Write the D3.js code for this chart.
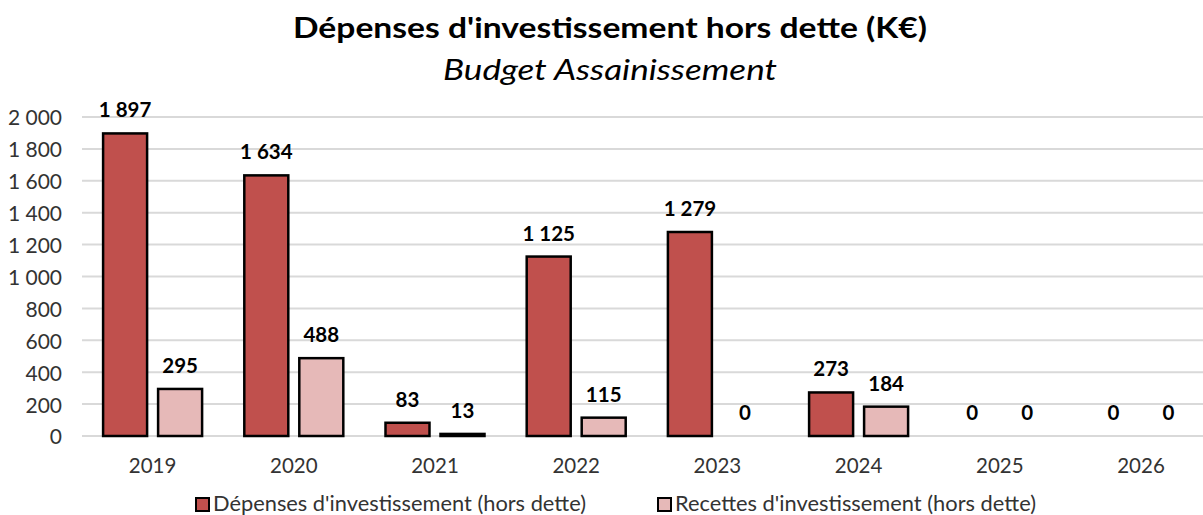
<!DOCTYPE html>
<html>
<head>
<meta charset="utf-8">
<script src="https://cdn.jsdelivr.net/npm/d3@7"></script>
<style>
  html, body { margin: 0; padding: 0; background: #fff; }
  svg { display: block; font-family: Lato, "Open Sans", sans-serif; }
</style>
</head>
<body>
<svg id="chart" width="1203" height="515"></svg>
<script>
const years = ["2019", "2020", "2021", "2022", "2023", "2024", "2025", "2026"];
const depenses = [1897, 1634, 83, 1125, 1279, 273, 0, 0];
const recettes = [295, 488, 13, 115, 0, 184, 0, 0];
const seriesNames = ["Dépenses d'investissement (hors dette)", "Recettes d'investissement (hors dette)"];
const yTicks = [0, 200, 400, 600, 800, 1000, 1200, 1400, 1600, 1800, 2000];

const colors = ["#C0504D", "#E6B9B8"];
const fmt = v => d3.format(",")(v).replace(/,/g, " ");

const svg = d3.select("#chart");
const plotLeft = 82, plotRight = 1211.6, plotTop = 117, plotBottom = 436;

const x = d3.scaleBand().domain(years).range([plotLeft, plotRight]).paddingInner(0).paddingOuter(0);
const barW = 44, gap = 11;
const y = d3.scaleLinear().domain([0, 2000]).range([plotBottom, plotTop]);

// grid lines
svg.append("g").selectAll("line").data(yTicks).join("line")
  .attr("x1", plotLeft).attr("x2", 1203)
  .attr("y1", d => y(d)).attr("y2", d => y(d))
  .attr("stroke", "#D9D9D9").attr("stroke-width", 2);

// y axis labels
const yAxis = d3.axisLeft(y).tickValues(yTicks).tickFormat(fmt).tickSize(0).tickPadding(0);
svg.append("g").attr("transform", `translate(62,0)`).call(yAxis)
  .call(g => g.select(".domain").remove())
  .selectAll("text").attr("font-size", 21).attr("fill", "#333")
  .attr("dy", "0.38em")
  .attr("font-family", "Lato, sans-serif");

// x axis labels
const xAxis = d3.axisBottom(x).tickSize(0).tickPadding(0);
svg.append("g").attr("transform", `translate(0,${plotBottom})`).call(xAxis)
  .call(g => g.select(".domain").remove())
  .selectAll("text").attr("font-size", 20.5).attr("fill", "#333")
  .attr("y", 37).attr("dy", 0)
  .attr("font-family", "Lato, sans-serif");

const series = [depenses, recettes];
series.forEach((vals, si) => {
  const off = si === 0 ? -(gap / 2 + barW) : gap / 2;
  const g = svg.append("g");
  const data = years.map((yr, i) => ({ yr, v: vals[i] }));
  g.selectAll("rect").data(data.filter(d => d.v > 0)).join("rect")
    .attr("x", d => x(d.yr) + x.bandwidth() / 2 + off)
    .attr("y", d => y(d.v))
    .attr("width", barW)
    .attr("height", d => y(0) - y(d.v))
    .attr("fill", colors[si])
    .attr("stroke", "#000").attr("stroke-width", 2.5);
  g.selectAll("text").data(data).join("text")
    .attr("x", d => x(d.yr) + x.bandwidth() / 2 + off + barW / 2)
    .attr("y", d => y(d.v) - 16)
    .attr("text-anchor", "middle")
    .attr("font-size", 20.5).attr("font-weight", "bold").attr("fill", "#000")
    .text(d => fmt(d.v));
});

// title
svg.append("text").attr("x", 610).attr("y", 38).attr("text-anchor", "middle")
  .attr("font-size", 28).attr("font-weight", "bold").attr("fill", "#000")
  .attr("textLength", 634).attr("lengthAdjust", "spacingAndGlyphs")
  .text("Dépenses d'investissement hors dette (K€)");
svg.append("text").attr("x", 610).attr("y", 80).attr("text-anchor", "middle")
  .attr("font-size", 28).attr("font-style", "italic").attr("fill", "#000")
  .attr("textLength", 334).attr("lengthAdjust", "spacingAndGlyphs")
  .text("Budget Assainissement");

// legend
const legX = [196, 658];
const legLen = [373, 361];
seriesNames.forEach((name, i) => {
  svg.append("rect").attr("x", legX[i]).attr("y", 498).attr("width", 13).attr("height", 13)
    .attr("fill", colors[i]).attr("stroke", "#000").attr("stroke-width", 2);
  svg.append("text").attr("x", legX[i] + 17).attr("y", 511)
    .attr("font-size", 21).attr("fill", "#333")
    .attr("textLength", legLen[i]).attr("lengthAdjust", "spacingAndGlyphs")
    .text(name);
});
</script>
</body>
</html>
